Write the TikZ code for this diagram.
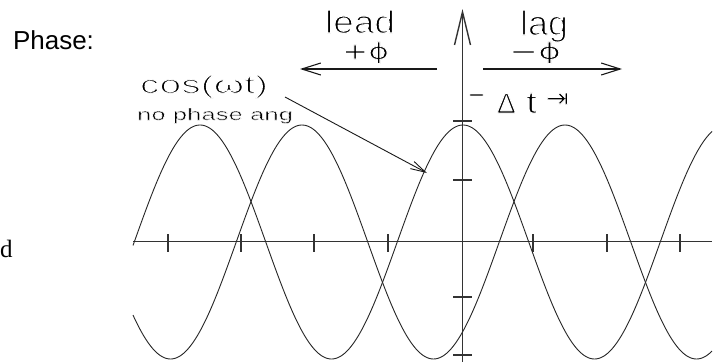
\documentclass[tikz,border=0pt]{standalone}
\usepackage{fontspec}
\setmainfont{Liberation Sans}
\newfontfamily\serifd{Liberation Serif}
\newfontfamily\dvs{DejaVu Sans}
\usetikzlibrary{arrows.meta}
\newcommand\thintxt[2]{\special{pdf:literal direct 2 Tr 1 G #1 w}#2\special{pdf:literal direct 0 Tr 0 G}}
\newcommand\fs[1]{\fontsize{#1}{#1}\selectfont}
\begin{document}
\begin{tikzpicture}[x=1pt,y=-1pt,line join=round,
  axisline/.style={line width=1.4pt,draw=black!80},
  curveline/.style={line width=0.9pt,draw=black!85},
  tickline/.style={line width=1.2pt,draw=black!80},
  lbl/.style={inner sep=0pt,outer sep=0pt},
  barb/.style={line width=1.1pt,draw=black!90,-{Straight Barb[length=19pt,width=12pt]}}]
\fill[white] (0,0) rectangle (716,362);
\useasboundingbox (0,0) rectangle (716,362);

% texts
\node[lbl,anchor=base west] (phase) at (13,49) {\fs{26}Phase:};
\node[lbl,anchor=base west] (dd) at (0,257) {\serifd\fs{25}d};
\node[lbl,anchor=base west] (lead) at (325,33) {\resizebox{70pt}{23pt}{\fs{31}\thintxt{1.1}{lead}}};
\node[lbl,anchor=base west] (plusphi) at (342,59) {\resizebox{47pt}{17pt}{\dvs\fs{22}\thintxt{0.8}{+ϕ}}};
\node[lbl,anchor=base west] (lag) at (520,35) {\resizebox{48pt}{25pt}{\fs{34}\thintxt{1.2}{lag}}};
\node[lbl,anchor=base west] (minusphi) at (509,59) {\resizebox{52pt}{17pt}{\dvs\fs{22}\thintxt{0.8}{−ϕ}}};
\node[lbl,anchor=base west] (cos) at (140,93) {\resizebox{128pt}{18pt}{\fs{25}\thintxt{1.0}{cos(ωt)}}};
\node[lbl,anchor=base west] (nophase) at (137,120) {\resizebox{156pt}{12pt}{\fs{16.5}\thintxt{0.4}{no phase ang}}};
\node[lbl] (dminus) at (476.5,98) {\resizebox{18pt}{!}{\dvs\fs{22}\thintxt{0.6}{−}}};
\node[lbl,anchor=base west] (delta) at (497,113) {\fs{28}\thintxt{1.0}{Δ}};
\node[lbl,anchor=base west] (tt) at (526,113) {\resizebox{11pt}{20pt}{\fs{30}\thintxt{1.0}{t}}};
\node[lbl] (tobar) at (557.5,100) {\dvs\fs{27}\thintxt{0.8}{⇥}};

% axes
\coordinate (xl) at (133,241.5);
\coordinate (xr) at (712,241.5);
\coordinate (yb) at (462.5,362);
\coordinate (yt) at (462.5,9);
\draw[axisline] (xl) -- (xr);
\draw[axisline,-{Straight Barb[length=33pt,width=16pt]}] (yb) -- (yt);
\foreach \t in {168,241,314,388,533,607,680}
  \draw[tickline] (\t,234) -- (\t,252);
\foreach \t in {121,180,297,355}
  \draw[tickline] (453,\t) -- (472,\t);

% curves
\draw[curveline] plot[domain=133:712,samples=300,smooth] (\x,{242-117*cos(1.36882*(\x-463))});
\draw[curveline] plot[domain=133:712,samples=300,smooth] (\x,{242-117*cos(1.36882*(\x-565))});

% arrows
\coordinate (leadR) at (437,69);
\coordinate (leadL) at (300,69);
\coordinate (lagL) at (483,69);
\coordinate (lagR) at (622,69);
\draw[barb] (leadR) -- (leadL);
\draw[barb] (lagL) -- (lagR);
\coordinate (pstart) at (285,97);
\coordinate (ptip) at (427,173);
\draw[line width=0.9pt,draw=black!90,-{Straight Barb[length=15pt,width=8pt]}] (pstart) -- (ptip);
\end{tikzpicture}
\end{document}
